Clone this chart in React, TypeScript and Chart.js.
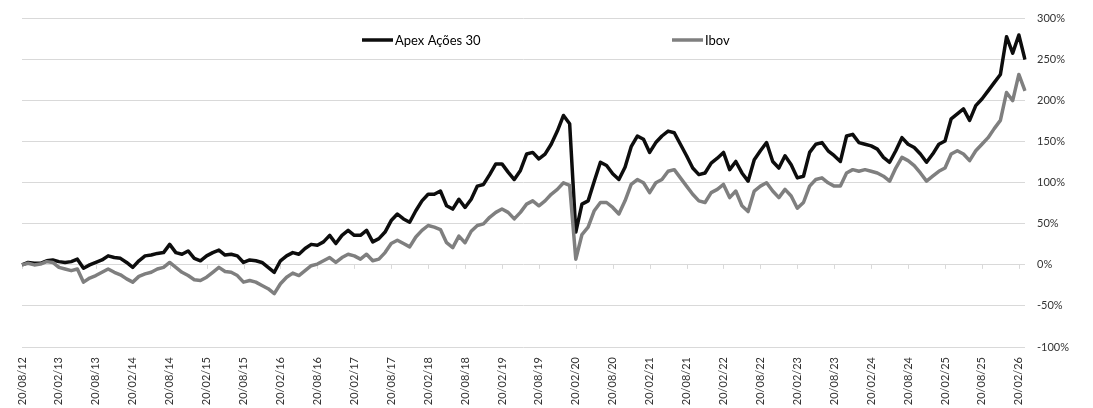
import React, { useEffect, useRef } from "react";
import { Chart, registerables } from "chart.js";

Chart.register(...registerables);

// Monthly readings (cumulative return, %), starting 20/08/12
const apexAcoes30: number[] = [
  0, 3, 2, 2, 5, 6, 4, 3, 4, 7,
  -4, 0, 3, 6, 11, 9, 8, 3, -3, 5,
  11, 12, 14, 15, 25, 15, 13, 17, 8, 5,
  11, 15, 18, 12, 13, 11, 3, 6, 5, 3,
  -3, -9, 5, 11, 15, 13, 20, 25, 24, 28,
  36, 26, 36, 42, 36, 36, 42, 28, 32, 40,
  54, 62, 56, 52, 66, 78, 86, 86, 90, 72,
  68, 80, 70, 80, 96, 98, 110, 123, 123, 113,
  104, 115, 135, 137, 129, 135, 147, 163, 182, 172,
  40, 74, 78, 102, 125, 121, 111, 104, 119, 144,
  157, 153, 137, 149, 157, 163, 161, 147, 133, 118,
  110, 112, 124, 130, 137, 116, 126, 112, 102, 128,
  139, 149, 126, 118, 133, 122, 106, 108, 137, 147,
  149, 139, 133, 126, 157, 159, 149, 147, 145, 141,
  131, 125, 139, 155, 147, 143, 135, 125, 135, 147,
  151, 178, 184, 190, 176, 194, 202, 212, 222, 232,
  278, 258, 280, 250,
];

const ibov: number[] = [
  0, 2, 0, 1, 4, 3, -3, -5, -7, -5,
  -21, -16, -13, -9, -5, -9, -12, -17, -21, -14,
  -11, -9, -5, -3, 3, -3, -9, -13, -18, -19,
  -15, -9, -3, -8, -9, -13, -21, -19, -21, -25,
  -29, -35, -23, -15, -10, -13, -7, -1, 1, 5,
  9, 3, 9, 13, 11, 7, 13, 5, 7, 15,
  26, 30, 26, 22, 34, 42, 48, 46, 43, 27,
  21, 35, 27, 41, 48, 50, 58, 64, 68, 64,
  56, 64, 74, 78, 72, 78, 86, 92, 100, 97,
  7, 37, 46, 66, 76, 76, 70, 62, 78, 98,
  104, 100, 88, 100, 104, 114, 116, 106, 96, 86,
  78, 76, 88, 92, 98, 82, 90, 72, 65, 90,
  96, 100, 90, 82, 92, 84, 69, 76, 96, 104,
  106, 100, 96, 96, 112, 116, 114, 116, 114, 112,
  108, 102, 118, 131, 127, 121, 112, 102, 108, 114,
  118, 135, 139, 135, 127, 139, 147, 155, 166, 176,
  210, 200, 232, 212,
];

const seriesNames = ["Apex Ações 30", "Ibov"];
const seriesColors = ["#0d0d0d", "#7f7f7f"];

// Category labels: one per month, day 20, from 20/08/12
const monthLabels: string[] = [];
for (let i = 0; i < apexAcoes30.length; i++) {
  const total = 7 + i;
  const yy = 12 + Math.floor(total / 12);
  const mm = (total % 12) + 1;
  monthLabels.push(`20/${String(mm).padStart(2, "0")}/${String(yy).padStart(2, "0")}`);
}
const labelEvery = 6;

const FONT = "Lato, 'Liberation Sans', sans-serif";

const zeroTicksPlugin = {
  id: "zeroTicks",
  beforeDatasetsDraw(chart: any) {
    const { ctx, scales } = chart;
    const xs = scales.x;
    const ys = scales.y;
    const y0 = ys.getPixelForValue(0);
    ctx.save();
    ctx.strokeStyle = "#d9d9d9";
    ctx.lineWidth = 1;
    for (let i = 0; i < monthLabels.length; i += labelEvery) {
      const x = Math.round(xs.getPixelForValue(i)) + 0.5;
      ctx.beginPath();
      ctx.moveTo(x, y0);
      ctx.lineTo(x, y0 + 4);
      ctx.stroke();
    }
    ctx.restore();
  },
};

const legendPlugin = {
  id: "customLegend",
  afterDraw(chart: any) {
    const ctx = chart.ctx;
    const starts = [362, 672];
    const y = 40;
    ctx.save();
    ctx.font = `13px ${FONT}`;
    ctx.textBaseline = "middle";
    ctx.textAlign = "left";
    seriesNames.forEach((name, i) => {
      ctx.strokeStyle = seriesColors[i];
      ctx.lineWidth = 3.5;
      ctx.beginPath();
      ctx.moveTo(starts[i], y);
      ctx.lineTo(starts[i] + 31, y);
      ctx.stroke();
      ctx.fillStyle = "#000000";
      ctx.fillText(name, starts[i] + 33, y + 0.5);
    });
    ctx.restore();
  },
};

export default function App() {
  const canvasRef = useRef<HTMLCanvasElement | null>(null);

  useEffect(() => {
    document.body.style.margin = "0";
    const canvas = canvasRef.current;
    if (!canvas) return;
    const chart = new Chart(canvas, {
      type: "line",
      data: {
        labels: monthLabels,
        datasets: [
          {
            label: seriesNames[1],
            data: ibov,
            borderColor: seriesColors[1],
            borderWidth: 3.5,
            borderJoinStyle: "round",
            pointRadius: 0,
            tension: 0,
            fill: false,
          },
          {
            label: seriesNames[0],
            data: apexAcoes30,
            borderColor: seriesColors[0],
            borderWidth: 3.5,
            borderJoinStyle: "round",
            pointRadius: 0,
            tension: 0,
            fill: false,
          },
        ],
      },
      options: {
        responsive: false,
        animation: false,
        devicePixelRatio: 1,
        layout: { padding: { left: 22, top: 17, right: 0, bottom: 0 } },
        plugins: {
          legend: { display: false },
          tooltip: { enabled: false },
        },
        scales: {
          x: {
            type: "category",
            offset: false,
            grid: { display: false, drawTicks: false },
            border: { display: false },
            ticks: {
              autoSkip: false,
              minRotation: 90,
              maxRotation: 90,
              padding: 10,
              color: "#333333",
              font: { family: FONT, size: 11 },
              callback: (_v: any, idx: number) =>
                idx % labelEvery === 0 ? monthLabels[idx] : null,
            },
            afterFit: (s: any) => {
              s.height = 61;
            },
          },
          y: {
            position: "right",
            min: -100,
            max: 300,
            grid: { color: "#d9d9d9", lineWidth: 1, drawTicks: false },
            border: { display: false },
            ticks: {
              stepSize: 50,
              padding: 12,
              color: "#333333",
              font: { family: FONT, size: 11 },
              callback: (v: any) => `${v}%`,
            },
            afterFit: (s: any) => {
              s.width = 68;
            },
          },
        },
      },
      plugins: [zeroTicksPlugin, legendPlugin],
    });
    return () => chart.destroy();
  }, []);

  return (
    <div style={{ width: 1093, height: 408, background: "#ffffff" }}>
      <canvas ref={canvasRef} width={1093} height={408} style={{ display: "block" }} />
    </div>
  );
}
